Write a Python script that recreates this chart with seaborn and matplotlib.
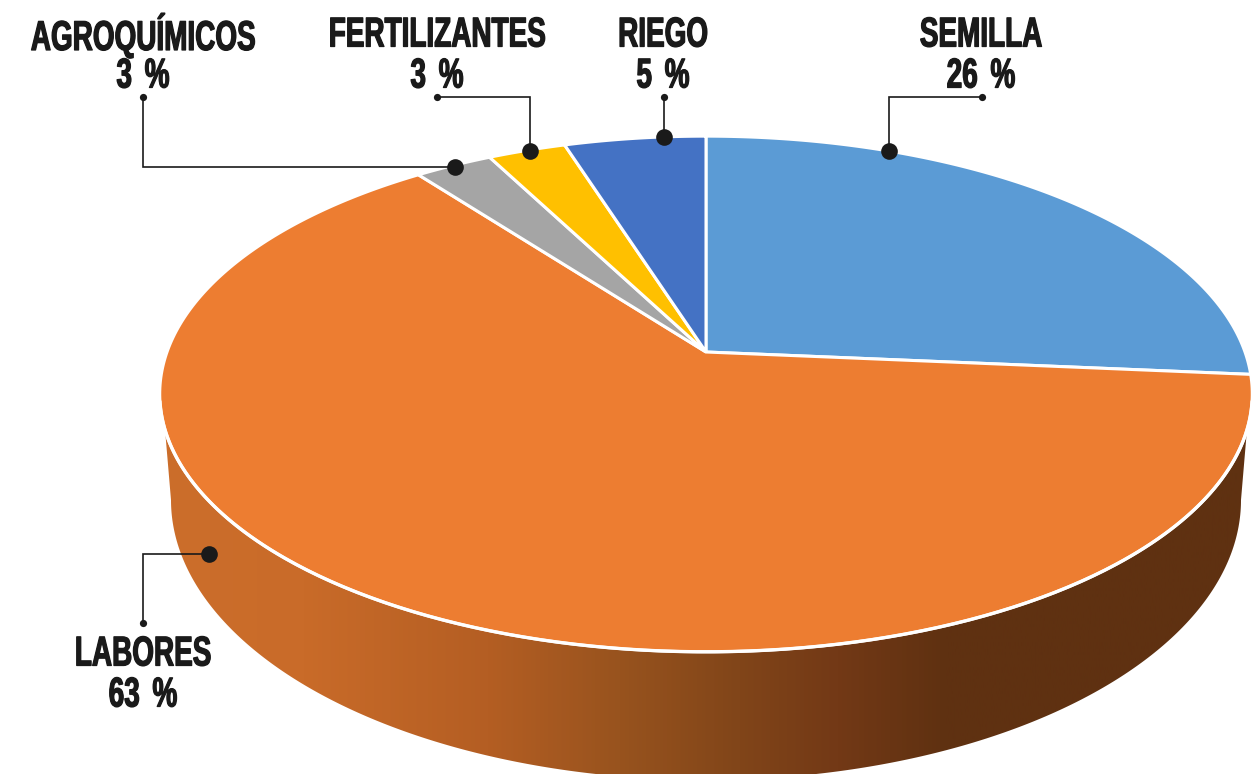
import numpy as np
import pandas as pd
import seaborn as sns
import matplotlib
matplotlib.use("Agg")
import matplotlib.pyplot as plt
import matplotlib.patheffects as pe
from matplotlib.patches import Polygon
from matplotlib.colors import LinearSegmentedColormap
from matplotlib import font_manager as fm
from fontTools.ttLib import TTFont
from fontTools.ttLib.tables.ttProgram import Program

categories = ["SEMILLA", "LABORES", "AGROQUÍMICOS", "FERTILIZANTES", "RIEGO"]
shares = [26.4, 63.3, 2.7, 2.7, 4.9]
share_labels = ["26 %", "63 %", "3 %", "3 %", "5 %"]
slice_colors = ["#5B9BD5", "#ED7D31", "#A5A5A5", "#FFC000", "#4472C4"]

sns.set_theme(style="white")


def condensed_font(base, scale, space_scale, family):
    """Write a horizontally condensed copy of an installed font, so labels stay real text."""
    path = fm.findfont(fm.FontProperties(family=base, weight="bold"))
    font = TTFont(path)
    glyf = font["glyf"]
    hmtx = font["hmtx"]
    space = font.getBestCmap().get(32)
    for name in font.getGlyphOrder():
        g = glyf[name]
        if g.isComposite():
            for comp in g.components:
                comp.x = int(round(comp.x * scale))
        elif g.numberOfContours > 0:
            g.coordinates.scale((scale, 1))
            g.coordinates.toInt()
        if hasattr(g, "program"):
            empty = Program()
            empty.fromBytecode(b"")
            g.program = empty
        adv, lsb = hmtx[name]
        k = space_scale if name == space else scale
        hmtx[name] = (int(round(adv * k)), int(round(lsb * scale)))
    for tag in ("kern", "GPOS", "GSUB", "fpgm", "prep", "cvt ", "hdmx", "VDMX", "LTSH", "gasp"):
        if tag in font:
            del font[tag]
    for rec in font["name"].names:
        if rec.nameID in (1, 4, 16):
            rec.string = family
        elif rec.nameID == 6:
            rec.string = family.replace(" ", "")
    out = "condensed.ttf"
    font.save(out)
    fm.fontManager.addfont(out)
    return fm.FontProperties(fname=out)


label_font = condensed_font("Liberation Sans", 0.67, 1.1, "Sketch Condensed")

df = pd.DataFrame({"cat": categories, "share": shares, "label": share_labels})
palette = sns.color_palette(slice_colors)

fig = plt.figure(figsize=(12.52, 7.74), dpi=100)
ax = fig.add_axes([0, 0, 1, 1])

# perspective disc
CX, CY, A, B, C = 706.0, 352.0, 251.0, 0.1628, 539.0


def proj(theta):
    x, y = np.sin(theta), np.cos(theta)
    d = 1 + B * y
    return CX + C * x / d, CY - A * y / d


# side wall with gradient
t_top = np.radians(np.linspace(107.2, 252.8, 300))
tx, ty = proj(t_top)
t_bot = np.radians(np.linspace(270, 90, 300))
bx, by = 706 + 535 * np.sin(t_bot), 500 - 280 * np.cos(t_bot)
wall = Polygon(np.column_stack([np.r_[tx, bx], np.r_[ty, by]]), closed=True,
               facecolor="none", edgecolor="none", transform=ax.transData)
ax.add_patch(wall)
stops = [(0.0, "#CC6E2B"), (0.13, "#C96B29"), (0.30, "#B45E23"), (0.42, "#98531E"),
         (0.53, "#814519"), (0.62, "#733916"), (0.72, "#5F3111"), (1.0, "#5F3111")]
cmap = LinearSegmentedColormap.from_list("wall", stops)
im = ax.imshow(np.linspace(0, 1, 512)[None, :], extent=(160, 1252, 774, 0), cmap=cmap,
               aspect="auto", zorder=1)
im.set_clip_path(wall)

# slices
edges = np.r_[0, np.cumsum(df["share"])] / df["share"].sum() * 2 * np.pi
for i, col in enumerate(palette):
    t = np.linspace(edges[i], edges[i + 1], 300)
    px, py = proj(t)
    pts = np.column_stack([np.r_[CX, px], np.r_[CY, py]])
    ax.add_patch(Polygon(pts, closed=True, facecolor=col, edgecolor="white",
                         linewidth=2.2, joinstyle="miter", zorder=2))
rx, ry = proj(np.radians(np.linspace(101, 259, 300)))
ax.plot(rx, ry, color="white", lw=2.4, zorder=3)

# leaders: label anchor, elbow path, big dot
INK = "#1A1A1A"
leaders = [
    [(982, 97), (889, 97), (889, 151)],
    [(143, 623), (143, 554), (209, 554)],
    [(143, 97), (143, 167), (455, 167)],
    [(437, 97), (530, 97), (530, 151)],
    [(664, 97), (664, 137)],
]
for path in leaders:
    xs, ys = zip(*path)
    ax.plot(xs, ys, color=INK, lw=1.2, zorder=4, solid_joinstyle="miter")
    ax.plot(xs[0], ys[0], "o", color=INK, ms=5.2, mew=0, zorder=5)
    ax.plot(xs[-1], ys[-1], "o", color=INK, ms=12, mew=0, zorder=5)

text_pos = [(981, 31, 72), (143, 650, 691), (143, 31, 72), (437, 31, 72), (663, 31, 72)]
for (x, y1, y2), row in zip(text_pos, df.itertuples()):
    for y, s in ((y1, row.cat), (y2, row.label)):
        ax.text(x, y, s, ha="center", va="center_baseline", fontproperties=label_font,
                fontsize=30, color=INK, zorder=6,
                path_effects=[pe.withStroke(linewidth=0.9, foreground=INK)])

ax.set_xlim(0, 1252)
ax.set_ylim(774, 0)
ax.axis("off")
fig.savefig("out.png", dpi=100, facecolor="white")
